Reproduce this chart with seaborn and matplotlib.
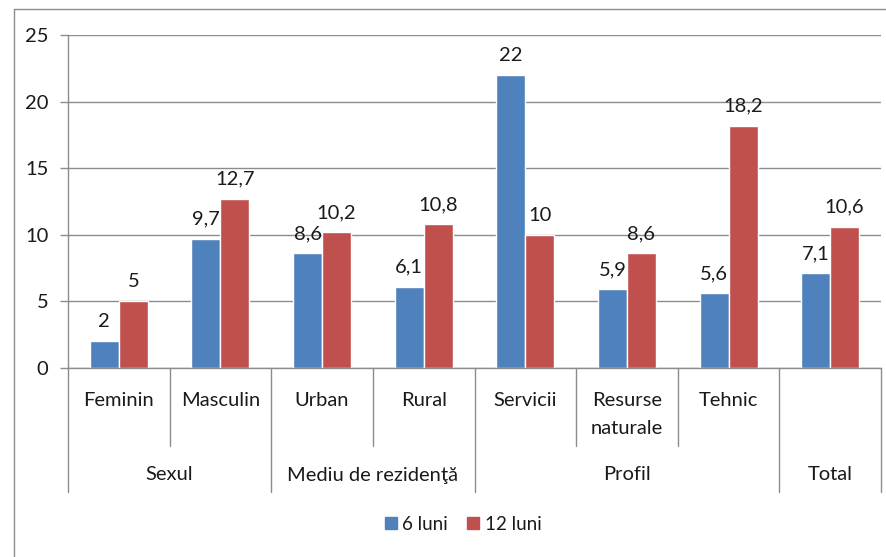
import matplotlib
matplotlib.use("Agg")
import matplotlib.pyplot as plt
import matplotlib.patches as mpatches
import matplotlib.lines as mlines
import matplotlib.transforms as mtransforms
import seaborn as sns
import pandas as pd

categories = ["Feminin", "Masculin", "Urban", "Rural", "Servicii", "Resurse\nnaturale", "Tehnic", "Total"]
category_labels = ["Feminin", "Masculin", "Urban", "Rural", "Servicii", "Resurse\nnaturale", "Tehnic", ""]
series_names = ["6 luni", "12 luni"]
values_6 = [2, 9.7, 8.6, 6.1, 22, 5.9, 5.6, 7.1]
values_12 = [5, 12.7, 10.2, 10.8, 10, 8.6, 18.2, 10.6]
group_labels = ["Sexul", "Mediu de rezidenţă", "Profil", "Total"]
group_spans = [(0, 1), (2, 3), (4, 6), (7, 7)]
yticks = [0, 5, 10, 15, 20, 25]

colors = ["#4F81BD", "#C0504D"]

sns.set_theme(style="white")
plt.rcParams["font.family"] = ["Lato", "DejaVu Sans"]

df = pd.DataFrame({
    "cat": categories * 2,
    "serie": [series_names[0]] * len(categories) + [series_names[1]] * len(categories),
    "val": values_6 + values_12,
})

fig = plt.figure(figsize=(8.86, 5.57), dpi=100)
ax = fig.add_axes([68 / 886, 189 / 557, 813 / 886, 333 / 557])

sns.barplot(data=df, x="cat", y="val", hue="serie", palette=colors, width=0.57,
            saturation=1, ax=ax, legend=False, order=categories, hue_order=series_names)

FS = 14.5
TXT = "#1a1a1a"
GRID = "#8c8c8c"
ax.set_xlim(-0.5, len(categories) - 0.5)
ax.set_ylim(0, 25)
ax.set_yticks(yticks)
ax.set_yticklabels([str(t) for t in yticks], fontsize=FS, color=TXT)
ax.set_xticks([])
ax.set_xlabel("")
ax.set_ylabel("")
ax.yaxis.grid(True, color=GRID, linewidth=1)
ax.set_axisbelow(True)
for s in ["top", "right"]:
    ax.spines[s].set_visible(False)
for s in ["left", "bottom"]:
    ax.spines[s].set_color(GRID)
    ax.spines[s].set_linewidth(1)
ax.tick_params(axis="y", left=True, length=6, width=1, color=GRID, pad=8)

# data labels
for cont in ax.containers:
    for bar in cont:
        h = bar.get_height()
        txt = f"{h:g}".replace(".", ",")
        ax.annotate(txt, (bar.get_x() + bar.get_width() / 2, h), xytext=(0, 8),
                    textcoords="offset points", ha="center", va="bottom",
                    fontsize=FS, color=TXT)

trans = mtransforms.blended_transform_factory(ax.transData, ax.transAxes)
lvl1_end = -(446 - 368) / 333
lvl2_end = -(492 - 368) / 333

# category labels (each line placed separately)
for i, c in enumerate(category_labels):
    for j, line in enumerate(c.split("\n")):
        ax.text(i, -(400 + 28 * j - 368) / 333, line, transform=trans, ha="center",
                va="center", fontsize=FS, color=TXT)

# separators
group_bounds = set()
for (a, b) in group_spans:
    group_bounds.add(a - 0.5)
    group_bounds.add(b + 0.5)
for k in range(len(categories) + 1):
    xpos = k - 0.5
    yend = lvl2_end if xpos in group_bounds else lvl1_end
    ax.plot([xpos, xpos], [0, yend], transform=trans, color=GRID,
            linewidth=1, clip_on=False)

# group labels
for lab, (a, b) in zip(group_labels, group_spans):
    ax.text((a + b) / 2, -(475 - 368) / 333, lab, transform=trans, ha="center",
            va="center", fontsize=FS, color=TXT)

# legend
handles = [mpatches.Patch(color=colors[i], label=series_names[i]) for i in range(2)]
fig.legend(handles=handles, loc="center", bbox_to_anchor=(463 / 886, 1 - 524 / 557),
           ncol=2, frameon=False, fontsize=13.5, handlelength=0.65, handleheight=0.65,
           handletextpad=0.3, columnspacing=1.0, labelcolor=TXT)

# outer frame (top and left edges visible)
fig.add_artist(mlines.Line2D([14 / 886, 14 / 886], [0, 1 - 9 / 557],
                             transform=fig.transFigure, color=GRID, linewidth=1))
fig.add_artist(mlines.Line2D([14 / 886, 1], [1 - 9 / 557, 1 - 9 / 557],
                             transform=fig.transFigure, color=GRID, linewidth=1))

fig.savefig("out.png", dpi=100)
